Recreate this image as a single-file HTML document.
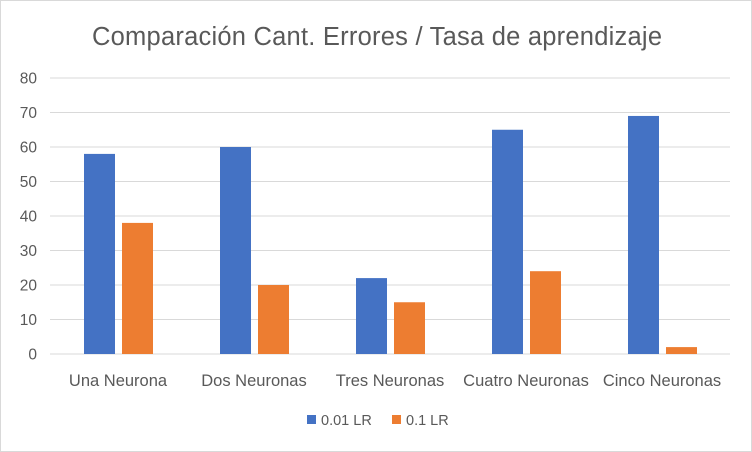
<!DOCTYPE html>
<html><head><meta charset="utf-8"><style>
body{margin:0;background:#fff;}
svg{display:block;font-family:"Liberation Sans",sans-serif;}
</style></head><body>
<svg id="chart" width="752" height="452">
<rect x="0.5" y="0.5" width="751" height="451" fill="#fff" stroke="#d9d9d9"/>
<text x="377" y="45" text-anchor="middle" font-size="25.5" fill="#595959" textLength="570">Comparación Cant. Errores / Tasa de aprendizaje</text>
<g id="grid"></g><g id="bars"></g><g id="labels"></g>
<g>
<rect x="307" y="415" width="9" height="9" fill="#4472c4"/>
<text x="321" y="425" font-size="14.5" fill="#595959">0.01 LR</text>
<rect x="392" y="415" width="9" height="9" fill="#ed7d31"/>
<text x="406" y="425" font-size="14.5" fill="#595959">0.1 LR</text>
</g>
</svg>
<script>
const categories=["Una Neurona","Dos Neuronas","Tres Neuronas","Cuatro Neuronas","Cinco Neuronas"];
const seriesA=[58,60,22,65,69];
const seriesB=[38,20,15,24,2];
const ticks=[0,10,20,30,40,50,60,70,80];
const NS="http://www.w3.org/2000/svg";
const x0=50,x1=730,y0=354,yTop=78,max=80;
const y=v=>y0-(v/max)*(y0-yTop);
const bw=(x1-x0)/categories.length;
function mk(t,a,p){const e=document.createElementNS(NS,t);for(const k in a)e.setAttribute(k,a[k]);p.appendChild(e);return e;}
const g=document.getElementById('grid'),b=document.getElementById('bars'),l=document.getElementById('labels');
ticks.forEach(t=>{
 const ln=mk('line',{x1:x0,x2:x1,y1:y(t),y2:y(t),stroke:'#d9d9d9','stroke-width':1},g);
 
 
 const tx=mk('text',{x:37,y:y(t)+5.5,'text-anchor':'end','font-size':15.5,fill:'#595959'},l);
 tx.textContent=t;
 
 
});
categories.forEach((c,i)=>{
 const cx=x0+bw*(i+0.5);
 const r1=mk('rect',{x:cx-34,y:y(seriesA[i]),width:31,height:y0-y(seriesA[i]),fill:'#4472c4'},b);
 
 
 const r2=mk('rect',{x:cx+4,y:y(seriesB[i]),width:31,height:y0-y(seriesB[i]),fill:'#ed7d31'},b);
 
 
 const tx=mk('text',{x:cx,y:386,'text-anchor':'middle','font-size':16.5,fill:'#595959'},l);
 tx.textContent=c;
 
 
});
</script>
</body></html>
